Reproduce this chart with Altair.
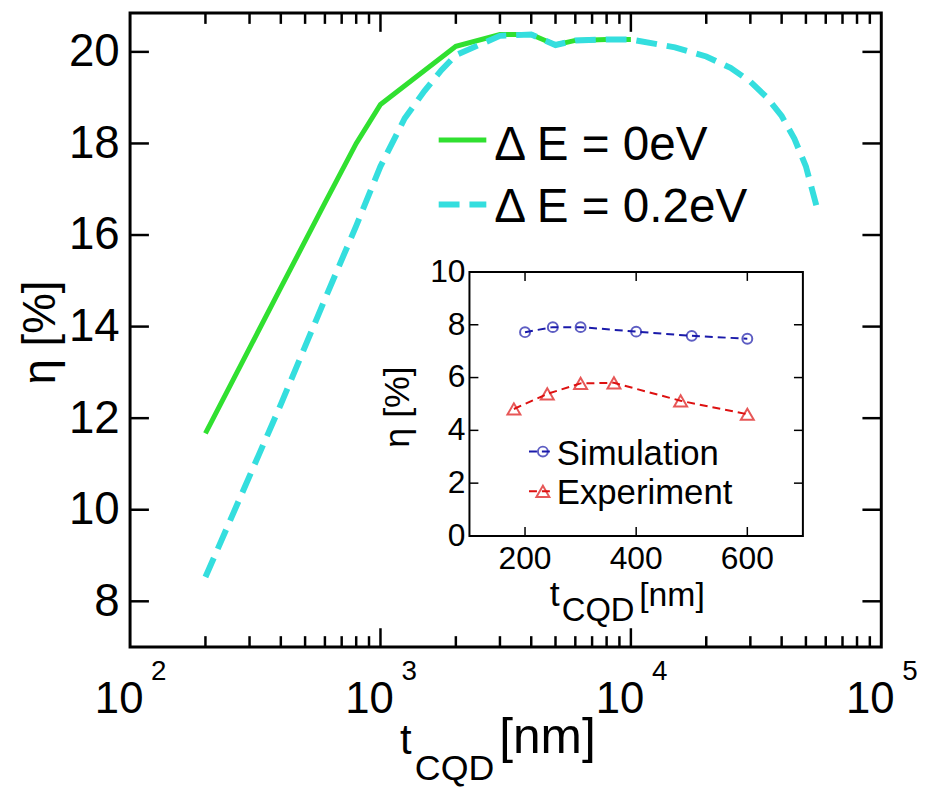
import altair as alt
import pandas as pd

# ---------------- main panel data ----------------
t_de0 = [200, 400, 600, 800, 1000, 2000, 3000, 4000, 5000, 6000, 8000, 10000]
eta_de0 = [11.67, 14.85, 16.7, 18.0, 18.85, 20.12, 20.38, 20.38, 20.15, 20.25, 20.27, 20.27]

t_de02 = [200, 400, 600, 800, 1000, 1250, 1500, 1750, 2000, 3000, 4000, 5000,
          6000, 8000, 10000, 15000, 20000, 25000, 30000, 35000, 40000, 45000, 50000, 55000]
eta_de02 = [8.53, 12.3, 14.6, 16.2, 17.5, 18.55, 19.15, 19.6, 19.93, 20.35, 20.38, 20.15,
            20.25, 20.27, 20.27, 20.1, 19.9, 19.65, 19.35, 19.0, 18.6, 18.1, 17.5, 16.65]

# ---------------- inset data ----------------
t_sim = [200, 250, 300, 400, 500, 600]
eta_sim = [7.72, 7.91, 7.91, 7.74, 7.58, 7.47]
t_exp = [180, 240, 300, 360, 480, 600]
eta_exp = [4.81, 5.38, 5.78, 5.80, 5.12, 4.61]

# ---------------- ticks / labels ----------------
main_y_ticks = [8, 10, 12, 14, 16, 18, 20]
main_x_decades = [100, 1000, 10000, 100000]
main_x_exponents = ["2", "3", "4", "5"]
main_x_major_inner = [1000, 10000]
main_x_minor = [200, 300, 400, 500, 600, 700, 800, 900,
                2000, 3000, 4000, 5000, 6000, 7000, 8000, 9000,
                20000, 30000, 40000, 50000, 60000, 70000, 80000, 90000]
inset_y_ticks = [0, 2, 4, 6, 8, 10]
inset_y_inner = [2, 4, 6, 8]
inset_x_ticks = [200, 400, 600]
legend_main = ["\u0394 E = 0eV", "\u0394 E = 0.2eV"]
legend_inset = ["Simulation", "Experiment"]

FONT = "Liberation Sans"
GREEN = "#30e030"
CYAN = "#34dede"
BLUE = "#1a1aaa"
RED = "#dd1111"
W, H = 757, 639

one = pd.DataFrame({"k": [0]})


def xm(f):
    return alt.X(f"{f}:Q", scale=alt.Scale(type="log", domain=[100, 100000], nice=False), axis=None)


def ym(f):
    return alt.Y(f"{f}:Q", scale=alt.Scale(domain=[7, 20.85], nice=False, zero=False), axis=None)


def xi(f):
    return alt.X(f"{f}:Q", scale=alt.Scale(domain=[100, 700], range=[342, 678], nice=False, zero=False), axis=None)


def yi(f):
    return alt.Y(f"{f}:Q", scale=alt.Scale(domain=[0, 10], range=[527, 261], nice=False, zero=False), axis=None)


def label(text, x, y, size, angle=0, align="left"):
    kw = dict(text=text, font=FONT, fontSize=size, align=align, baseline="alphabetic", color="black")
    if angle:
        kw["angle"] = angle
    return alt.Chart(one).mark_text(**kw).encode(x=alt.value(x), y=alt.value(y))


layers = []

# main curves
df0 = pd.DataFrame({"t": t_de0, "eta": eta_de0})
df1 = pd.DataFrame({"t": t_de02, "eta": eta_de02})
layers.append(alt.Chart(df0).mark_line(color=GREEN, strokeWidth=5).encode(x=xm("t"), y=ym("eta")))
layers.append(alt.Chart(df1).mark_line(color=CYAN, strokeWidth=6, strokeDash=[21, 10]).encode(x=xm("t"), y=ym("eta")))

# main y ticks (inside) with labels
dfy = pd.DataFrame({"v": main_y_ticks})
layers.append(
    alt.Chart(dfy).mark_rule(color="black", strokeWidth=2.5).encode(
        x=alt.value(0), x2=alt.value(19),
        y=alt.Y("v:Q", scale=alt.Scale(domain=[7, 20.85], nice=False, zero=False), title="",
                axis=alt.Axis(values=main_y_ticks, domain=False, ticks=False, tickSize=0, grid=False,
                              labelPadding=11, labelFontSize=46, labelFont=FONT, labelColor="black"))
    )
)
layers.append(alt.Chart(dfy).mark_rule(color="black", strokeWidth=2.5).encode(
    x=alt.value(W - 19), x2=alt.value(W), y=ym("v")))

# main x ticks
dfxM = pd.DataFrame({"v": main_x_major_inner})
dfxm = pd.DataFrame({"v": main_x_minor})
layers.append(alt.Chart(dfxM).mark_rule(color="black", strokeWidth=2.5).encode(x=xm("v"), y=alt.value(H), y2=alt.value(H - 19)))
layers.append(alt.Chart(dfxM).mark_rule(color="black", strokeWidth=2.5).encode(x=xm("v"), y=alt.value(0), y2=alt.value(19)))
layers.append(alt.Chart(dfxm).mark_rule(color="black", strokeWidth=2.5).encode(x=xm("v"), y=alt.value(H), y2=alt.value(H - 11)))
layers.append(alt.Chart(dfxm).mark_rule(color="black", strokeWidth=2.5).encode(x=xm("v"), y=alt.value(0), y2=alt.value(11)))

# main x labels 10^n
dfd = pd.DataFrame({"d": main_x_decades, "e": main_x_exponents})
layers.append(alt.Chart(dfd).mark_text(text="10", font=FONT, fontSize=44, align="center", baseline="alphabetic",
                                       dx=-11, color="black").encode(x=xm("d"), y=alt.value(705)))
layers.append(alt.Chart(dfd).mark_text(font=FONT, fontSize=28, align="center", baseline="alphabetic",
                                       dx=29, color="black").encode(x=xm("d"), y=alt.value(672), text="e:N"))

# main axis titles
layers.append(label("\u03b7 [%]", -76, 322, 46, angle=270, align="center"))
layers.append(label("t", 272, 747, 42))
layers.append(label("CQD", 287, 773, 36))
layers.append(label("[nm]", 372, 746, 50))

# main legend
layers.append(alt.Chart(one).mark_rule(color=GREEN, strokeWidth=5).encode(x=alt.value(311), x2=alt.value(359), y=alt.value(128)))
layers.append(alt.Chart(one).mark_rule(color=CYAN, strokeWidth=6, strokeDash=[21, 10]).encode(x=alt.value(311), x2=alt.value(359), y=alt.value(193)))
layers.append(label(legend_main[0], 367, 148, 48))
layers.append(label(legend_main[1], 367, 211, 48))

# ---------------- inset ----------------
dfbox = pd.DataFrame({"x0": [100], "x1": [700], "y0": [0], "y1": [10]})
layers.append(alt.Chart(dfbox).mark_rect(fill="white", stroke="black", strokeWidth=2).encode(
    x=xi("x0"), x2="x1", y=yi("y0"), y2="y1"))

dfiy = pd.DataFrame({"v": inset_y_inner})
dfix = pd.DataFrame({"v": inset_x_ticks})
layers.append(alt.Chart(dfiy).mark_rule(color="black", strokeWidth=1.5).encode(x=alt.value(342), x2=alt.value(351), y=yi("v")))
layers.append(alt.Chart(dfiy).mark_rule(color="black", strokeWidth=1.5).encode(x=alt.value(669), x2=alt.value(678), y=yi("v")))
layers.append(alt.Chart(dfix).mark_rule(color="black", strokeWidth=1.5).encode(x=xi("v"), y=alt.value(527), y2=alt.value(518)))
layers.append(alt.Chart(dfix).mark_rule(color="black", strokeWidth=1.5).encode(x=xi("v"), y=alt.value(261), y2=alt.value(270)))

dfil = pd.DataFrame({"v": inset_y_ticks})
layers.append(alt.Chart(dfil).mark_text(font=FONT, fontSize=32, align="right", baseline="middle", color="black").encode(
    x=alt.value(338), y=yi("v"), text="v:Q"))
layers.append(alt.Chart(dfix).mark_text(font=FONT, fontSize=32, align="center", baseline="alphabetic", color="black").encode(
    x=xi("v"), y=alt.value(560), text="v:Q"))

# inset titles
layers.append(label("\u03b7 [%]", 281, 397, 36, angle=270, align="center"))
layers.append(label("t", 423, 598, 36))
layers.append(label("CQD", 435, 613, 33))
layers.append(label("[nm]", 513, 598, 34))

# inset series
dfs = pd.DataFrame({"t": t_sim, "eta": eta_sim})
dfe = pd.DataFrame({"t": t_exp, "eta": eta_exp})
layers.append(alt.Chart(dfs).mark_line(color=BLUE, strokeWidth=2, strokeDash=[8, 5]).encode(x=xi("t"), y=yi("eta")))
layers.append(alt.Chart(dfs).mark_point(shape="circle", filled=False, size=100, strokeWidth=2, color=BLUE).encode(x=xi("t"), y=yi("eta")))
layers.append(alt.Chart(dfe).mark_line(color=RED, strokeWidth=2, strokeDash=[8, 5]).encode(x=xi("t"), y=yi("eta")))
layers.append(alt.Chart(dfe).mark_point(shape="triangle-up", filled=False, size=170, strokeWidth=2, color=RED).encode(x=xi("t"), y=yi("eta")))

# inset legend
layers.append(alt.Chart(one).mark_rule(color=BLUE, strokeWidth=2, strokeDash=[8, 5]).encode(x=alt.value(402), x2=alt.value(428), y=alt.value(442)))
layers.append(alt.Chart(one).mark_point(shape="circle", filled=False, size=100, strokeWidth=2, color=BLUE).encode(x=alt.value(416), y=alt.value(442)))
layers.append(alt.Chart(one).mark_rule(color=RED, strokeWidth=2, strokeDash=[8, 5]).encode(x=alt.value(402), x2=alt.value(428), y=alt.value(482)))
layers.append(alt.Chart(one).mark_point(shape="triangle-up", filled=False, size=170, strokeWidth=2, color=RED).encode(x=alt.value(416), y=alt.value(482)))
layers.append(label(legend_inset[0], 430, 456, 35))
layers.append(label(legend_inset[1], 430, 495, 35))

chart = alt.layer(*layers).resolve_scale(x="independent", y="independent").properties(
    width=W, height=H,
    autosize=alt.AutoSizeParams(type="none"),
    padding={"left": 123, "top": 2, "right": 38, "bottom": 140},
    background="white",
).configure_view(stroke="black", strokeWidth=3)

chart.save("out.html", embed_options={"renderer": "svg", "actions": False})
